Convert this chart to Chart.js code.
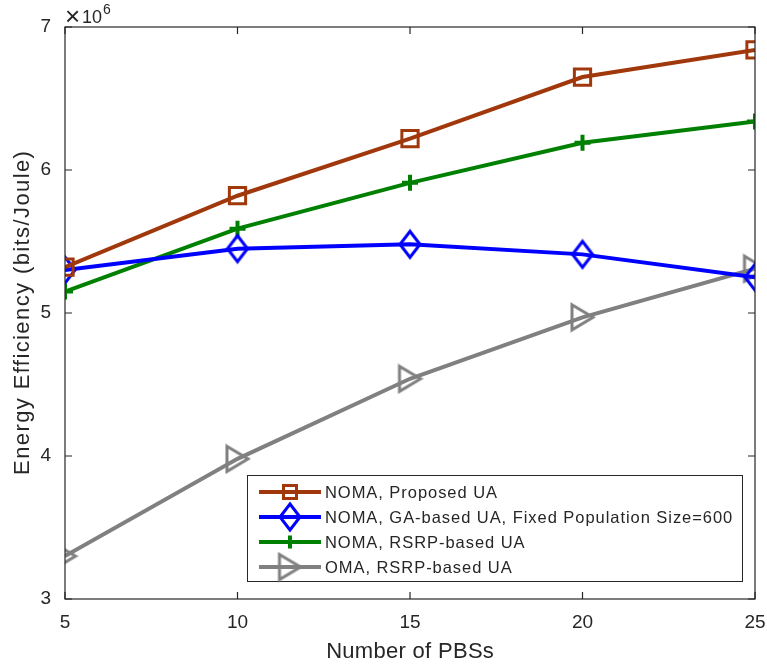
<!DOCTYPE html>
<html>
<head>
<meta charset="utf-8">
<script src="https://cdn.jsdelivr.net/npm/chart.js@4.4.1/dist/chart.umd.min.js"></script>
<style>
  html, body { margin: 0; padding: 0; background: #fff; }
  #wrap { width: 767px; height: 668px; }
</style>
</head>
<body>
<div id="wrap"><canvas id="eeChart" width="767" height="668"></canvas></div>
<script>
// number of PBSs on the x axis
const pbs = [5, 10, 15, 20, 25];
// energy efficiency, in units of 10^6 bits/Joule
const nomaProposed = [5.32, 5.82, 6.22, 6.65, 6.84];
const nomaGA = [5.30, 5.45, 5.48, 5.41, 5.25];
const nomaRSRP = [5.15, 5.59, 5.91, 6.19, 6.34];
const omaRSRP = [3.30, 3.98, 4.54, 4.97, 5.31];
const yTicks = [3, 4, 5, 6, 7];
const xTicks = [5, 10, 15, 20, 25];

const FONT = '"Liberation Sans", Arial, Helvetica, sans-serif';
const AXIS = '#262626';

// hollow marker drawn on a small canvas so it can be taller than wide
function marker(w, h, color, path) {
  const c = document.createElement('canvas');
  c.width = w; c.height = h;
  const g = c.getContext('2d');
  g.strokeStyle = color;
  g.lineWidth = 3;
  g.lineJoin = 'miter';
  g.beginPath();
  path.forEach((p, i) => i ? g.lineTo(p[0], p[1]) : g.moveTo(p[0], p[1]));
  g.closePath();
  g.stroke();
  return c;
}
const diamond = marker(26, 32, '#0000ff', [[13, 3], [23, 16], [13, 29], [3, 16]]);
const triRight = marker(27, 31, '#808080', [[3, 3], [24, 15.5], [3, 28]]);

function pts(ys) {
  return pbs.map((x, i) => ({ x: x, y: ys[i] }));
}

function series(label, ys, color, style, radius, extra) {
  return Object.assign({
    label: label,
    data: pts(ys),
    borderColor: color,
    backgroundColor: color,
    borderWidth: 4,
    pointStyle: style,
    pointRadius: radius,
    pointHoverRadius: radius,
    pointBorderColor: color,
    pointBackgroundColor: 'rgba(0,0,0,0)',
    pointBorderWidth: 3,
    tension: 0
  }, extra || {});
}

const datasets = [
  series('NOMA, Proposed UA', nomaProposed, '#a0380c', 'rect', 11.5),
  series('NOMA, GA-based UA, Fixed Population Size=600', nomaGA, '#0000ff', diamond, 12),
  series('NOMA, RSRP-based UA', nomaRSRP, '#008000', 'cross', 8, { pointBorderWidth: 4 }),
  series('OMA, RSRP-based UA', omaRSRP, '#808080', triRight, 14)
];

function spacedText(ctx, text, x, y, font, spacing, align) {
  ctx.font = font;
  ctx.letterSpacing = spacing + 'px';
  const w = ctx.measureText(text).width - spacing;
  ctx.textAlign = 'left';
  ctx.fillText(text, align === 'center' ? x - w / 2 : x, y);
  ctx.letterSpacing = '0px';
}

// box, inward ticks on all sides, axis titles, the exponent label and the legend
const frame = {
  id: 'frame',
  afterDraw(chart) {
    const ctx = chart.ctx;
    const a = chart.chartArea;
    const xs = chart.scales.x, ys = chart.scales.y;
    ctx.save();
    ctx.strokeStyle = AXIS;
    ctx.lineWidth = 1.2;
    ctx.strokeRect(a.left, a.top, a.right - a.left, a.bottom - a.top);
    ctx.beginPath();
    const tl = 7;
    xTicks.forEach(v => {
      const px = xs.getPixelForValue(v);
      ctx.moveTo(px, a.bottom); ctx.lineTo(px, a.bottom - tl);
      ctx.moveTo(px, a.top); ctx.lineTo(px, a.top + tl);
    });
    yTicks.forEach(v => {
      const py = ys.getPixelForValue(v);
      ctx.moveTo(a.left, py); ctx.lineTo(a.left + tl, py);
      ctx.moveTo(a.right, py); ctx.lineTo(a.right - tl, py);
    });
    ctx.stroke();

    ctx.fillStyle = AXIS;
    ctx.textBaseline = 'alphabetic';

    // axis titles
    spacedText(ctx, 'Number of PBSs', (a.left + a.right) / 2, 658, '22px ' + FONT, 0.3, 'center');
    ctx.save();
    ctx.translate(29, (a.top + a.bottom) / 2);
    ctx.rotate(-Math.PI / 2);
    spacedText(ctx, 'Energy Efficiency (bits/Joule)', 0, 0, '22px ' + FONT, 1.4, 'center');
    ctx.restore();

    // x10^6
    ctx.textAlign = 'left';
    ctx.font = '26px ' + FONT;
    ctx.fillText('\u00d7', a.left, 25);
    ctx.font = '18px ' + FONT;
    ctx.fillText('10', a.left + 17, 23);
    ctx.font = '14px ' + FONT;
    ctx.fillText('6', a.left + 38, 14);

    // legend box
    const lx = 247, ly = 475, lw = 495, lh = 106;
    ctx.fillStyle = '#fff';
    ctx.fillRect(lx, ly, lw, lh);
    ctx.strokeStyle = AXIS;
    ctx.lineWidth = 1;
    ctx.strokeRect(lx + 0.5, ly + 0.5, lw, lh);
    chart.data.datasets.forEach((ds, i) => {
      const cy = ly + 17 + i * 25;
      ctx.strokeStyle = ds.borderColor;
      ctx.lineWidth = 4;
      ctx.beginPath();
      ctx.moveTo(lx + 12, cy); ctx.lineTo(lx + 74, cy);
      ctx.stroke();
      ctx.lineWidth = ds.pointBorderWidth;
      ctx.fillStyle = 'rgba(0,0,0,0)';
      Chart.helpers.drawPoint(ctx, {
        pointStyle: ds.pointStyle,
        rotation: 0,
        radius: typeof ds.pointStyle === 'string' ? ds.pointRadius * 0.8 : ds.pointRadius,
        borderWidth: ds.pointBorderWidth
      }, lx + 43, cy);
      ctx.fillStyle = AXIS;
      ctx.textBaseline = 'alphabetic';
      spacedText(ctx, ds.label, lx + 78, cy + 6, '16.5px ' + FONT, 0.95, 'left');
    });
    ctx.restore();
  }
};

new Chart(document.getElementById('eeChart'), {
  type: 'line',
  data: { datasets: datasets },
  options: {
    responsive: false,
    animation: false,
    layout: { autoPadding: false, padding: { top: 27, right: 12, left: 0, bottom: 0 } },
    plugins: { legend: { display: false }, tooltip: { enabled: false } },
    scales: {
      x: {
        type: 'linear', min: 5, max: 25,
        afterBuildTicks: s => { s.ticks = xTicks.map(v => ({ value: v })); },
        afterFit: s => { s.height = 69; s.paddingLeft = 0; s.paddingRight = 0; },
        grid: { display: false, drawTicks: false },
        border: { display: false },
        ticks: { color: AXIS, padding: 12, font: { family: FONT, size: 19 }, maxRotation: 0 }
      },
      y: {
        type: 'linear', min: 3, max: 7,
        afterBuildTicks: s => { s.ticks = yTicks.map(v => ({ value: v })); },
        afterFit: s => { s.width = 65; s.paddingTop = 0; s.paddingBottom = 0; },
        grid: { display: false, drawTicks: false },
        border: { display: false },
        ticks: { color: AXIS, padding: 14, font: { family: FONT, size: 19 } }
      }
    }
  },
  plugins: [frame]
});
</script>
</body>
</html>
